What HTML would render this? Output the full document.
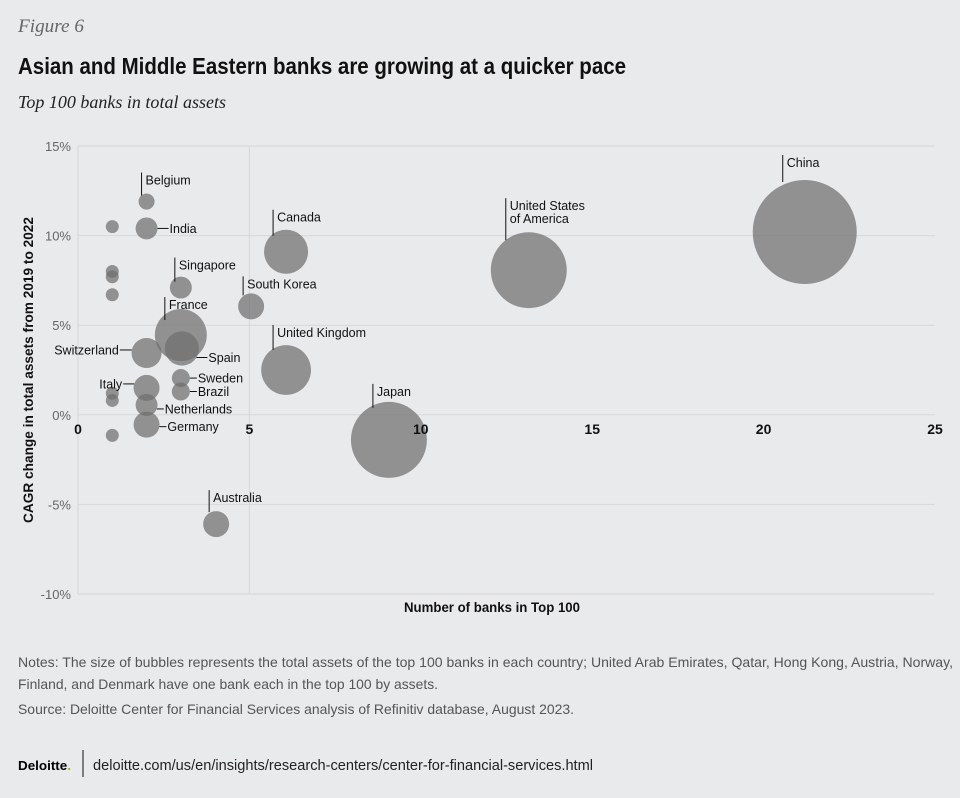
<!DOCTYPE html>
<html><head><meta charset="utf-8"><style>
html,body{margin:0;padding:0;background:#e9eaec;}
svg{display:block;font-family:"Liberation Sans",sans-serif;}
</style></head><body>
<svg id="chart" width="960" height="798" viewBox="0 0 960 798" xmlns="http://www.w3.org/2000/svg">
<rect width="960" height="798" fill="#e9eaec"/>
<text x="18" y="32" font-family="Liberation Serif" font-style="italic" font-size="19" fill="#666" textLength="66" lengthAdjust="spacingAndGlyphs">Figure 6</text>
<text x="18" y="74" font-weight="bold" font-size="23" fill="#111" textLength="608" lengthAdjust="spacingAndGlyphs">Asian and Middle Eastern banks are growing at a quicker pace</text>
<text x="18" y="108" font-family="Liberation Serif" font-style="italic" font-size="18" fill="#222" textLength="208" lengthAdjust="spacingAndGlyphs">Top 100 banks in total assets</text>
<g id="grid"></g>
<g id="bubbles"></g>
<g id="xticks"></g>
<g id="labels"></g>
<text x="492" y="612" text-anchor="middle" font-weight="bold" font-size="14" fill="#111" textLength="176" lengthAdjust="spacingAndGlyphs">Number of banks in Top 100</text>
<text transform="translate(33,370) rotate(-90)" text-anchor="middle" font-weight="bold" font-size="14" fill="#111" textLength="306" lengthAdjust="spacingAndGlyphs">CAGR change in total assets from 2019 to 2022</text>
<text x="18" y="667" font-size="14" fill="#555" textLength="935" lengthAdjust="spacingAndGlyphs">Notes: The size of bubbles represents the total assets of the top 100 banks in each country; United Arab Emirates, Qatar, Hong Kong, Austria, Norway,</text>
<text x="18" y="689" font-size="14" fill="#555" textLength="420" lengthAdjust="spacingAndGlyphs">Finland, and Denmark have one bank each in the top 100 by assets.</text>
<text x="18" y="714" font-size="14" fill="#555" textLength="556" lengthAdjust="spacingAndGlyphs">Source: Deloitte Center for Financial Services analysis of Refinitiv database, August 2023.</text>
<text x="18" y="770" font-weight="bold" font-size="13" fill="#000" textLength="53" lengthAdjust="spacingAndGlyphs">Deloitte<tspan fill="#86bc25">.</tspan></text>
<line x1="83" y1="750" x2="83" y2="777" stroke="#111" stroke-width="1"/>
<text x="93" y="770" font-size="15" fill="#222" textLength="500" lengthAdjust="spacingAndGlyphs">deloitte.com/us/en/insights/research-centers/center-for-financial-services.html</text>
</svg>
<script>
const countries = ["China","United States of America","Japan","United Kingdom","Canada","France","South Korea","Australia","Spain","Singapore","Sweden","Brazil","Belgium","India","Switzerland","Italy","Netherlands","Germany","UAE","Qatar","Hong Kong","Austria","Norway","Finland","Denmark"];
const bankCounts = [21.2,13.15,9.07,6.07,6.07,3.0,5.05,4.03,3.03,3.0,3.0,3.0,2,2,2,2,2,2,1,1,1,1,1,1,1];
const cagrValues = [10.2,8.07,-1.4,2.5,9.1,4.45,6.05,-6.1,3.7,7.1,2.05,1.3,11.9,10.4,3.45,1.5,0.55,-0.55,10.5,8.0,7.7,6.7,1.2,0.8,-1.15];
const totalAssets = [24,12.8,12.8,5.5,4.3,6.0,1.5,1.5,2.6,1.07,0.72,0.72,0.57,1.07,2.0,1.5,1.07,1.5,0.375,0.375,0.375,0.375,0.375,0.375,0.375];
const xTicks = [0,5,10,15,20,25];
const yTicks = [15,10,5,0,-5,-10];
const yTickLabels = ["15%","10%","5%","0%","-5%","-10%"];

const NS="http://www.w3.org/2000/svg";
const X0=78,X1=935,Y15=146,Ym10=594;
const xs=v=>X0+(v-0)/(25-0)*(X1-X0);
const ys=v=>Y15+(15-v)/(25)*(Ym10-Y15);
const rs=a=>52*Math.sqrt(a/24);
function mk(t,attrs,parent){const e=document.createElementNS(NS,t);for(const k in attrs)e.setAttribute(k,attrs[k]);parent.appendChild(e);return e;}
const grid=document.getElementById('grid');
yTicks.forEach((t,i)=>{
  const l=mk('line',{x1:X0,x2:X1,y1:ys(t),y2:ys(t),stroke:'#d6d7da','stroke-width':1},grid);
  
  
  const tx=mk('text',{x:71,y:ys(t)+5,'text-anchor':'end','font-size':13,fill:'#666'},grid);
  
  
  tx.textContent=yTickLabels[i];
});
[0,5].forEach(t=>{
  const l=mk('line',{x1:xs(t),x2:xs(t),y1:Y15,y2:Ym10,stroke:'#d6d7da','stroke-width':1},grid);
  
  
});
const xg=document.getElementById('xticks');
xTicks.forEach(t=>{
  const tx=mk('text',{x:xs(t),y:ys(0)+19,'text-anchor':'middle','font-size':14,'font-weight':'bold',fill:'#111'},xg);
  
  
  tx.textContent=t;
});
const bg=document.getElementById('bubbles');
countries.forEach((c,i)=>{
  const b=mk('circle',{cx:xs(bankCounts[i]),cy:ys(cagrValues[i]),r:rs(totalAssets[i]),fill:'#6f6f6f','fill-opacity':0.72},bg);
  
  
});
const labelStyle={
 "China":["top",-22,-77,-50],"United States of America":["top",-23,-72,-30],"Japan":["top",-16,-56,-32],
 "United Kingdom":["top",-13,-45,-20],"Canada":["top",-13,-42,-16],"France":["top",-16,-38,-15],
 "South Korea":["top",-8,-30,-11],"Australia":["top",-7,-34,-12],"Singapore":["top",-6,-30,-6],"Belgium":["top",-5,-29,-6],
 "India":["right",0,11],"Spain":["right",9,11],"Sweden":["right",0,7],"Brazil":["right",0,7],"Netherlands":["right",4,7],"Germany":["right",2,7],
 "Switzerland":["left",-3,12],"Italy":["left",-4,11]
};
const lg=document.getElementById('labels');
countries.forEach((c,i)=>{
  const s=labelStyle[c]; if(!s) return;
  const cx=xs(bankCounts[i]),cy=ys(cagrValues[i]),r=rs(totalAssets[i]);
  const g=mk('g',{},lg);
  
  
  const ts={'font-size':12.5,fill:'#111'};
  if(s[0]==='top'){
    mk('line',{x1:cx+s[1],x2:cx+s[1],y1:cy+s[2],y2:cy+s[3],stroke:'#111','stroke-width':1},g);
    if(c==="United States of America"){
      const t1=mk('text',Object.assign({x:cx+s[1]+4,y:cy+s[2]+12},ts),g);t1.textContent="United States";
      const t2=mk('text',Object.assign({x:cx+s[1]+4,y:cy+s[2]+25},ts),g);t2.textContent="of America";
    } else {
      const t=mk('text',Object.assign({x:cx+s[1]+4,y:cy+s[2]+12},ts),g);t.textContent=c;
    }
  } else if(s[0]==='right'){
    const y=cy+s[1],x1=cx+Math.sqrt(Math.max(r*r-s[1]*s[1],0));
    mk('line',{x1:x1,x2:x1+s[2],y1:y,y2:y,stroke:'#111','stroke-width':1},g);
    const t=mk('text',Object.assign({x:x1+s[2]+1,y:y+4.5},ts),g);t.textContent=c;
  } else {
    const y=cy+s[1],x1=cx-Math.sqrt(Math.max(r*r-s[1]*s[1],0));
    mk('line',{x1:x1,x2:x1-s[2],y1:y,y2:y,stroke:'#111','stroke-width':1},g);
    const t=mk('text',Object.assign({x:x1-s[2]-1,y:y+4.5,'text-anchor':'end'},ts),g);t.textContent=c;
  }
});
</script>
</body></html>
